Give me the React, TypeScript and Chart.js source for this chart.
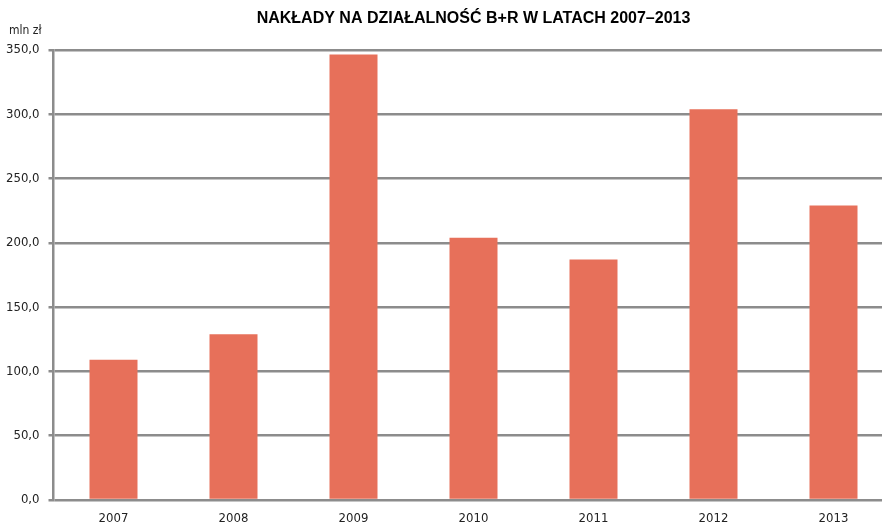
import React, { useEffect, useRef } from "react";
import { Chart, registerables } from "chart.js";

Chart.register(...registerables);

const TITLE = "NAKŁADY NA DZIAŁALNOŚĆ B+R W LATACH 2007–2013";
const UNIT = "mln zł";
const years = ["2007", "2008", "2009", "2010", "2011", "2012", "2013"];
const spending = [109, 129, 346.5, 204, 187, 304, 229];
const yMin = 0;
const yMax = 350;
const yStep = 50;

const FONT = "'Liberation Sans Narrow', 'Arial Narrow', 'DejaVu Sans Condensed', sans-serif";
const GRID = "#8c8c8c";

export default function App() {
  const ref = useRef<HTMLCanvasElement | null>(null);

  useEffect(() => {
    if (!ref.current) return;
    const textPlugin = {
      id: "texts",
      afterDraw(chart: any) {
        const { ctx, chartArea } = chart;
        ctx.save();
        ctx.fillStyle = "#000";
        ctx.font = "bold 16px 'Liberation Sans', Arial, sans-serif";
        ctx.textAlign = "center";
        ctx.textBaseline = "middle";
        ctx.fillText(TITLE, (chartArea.left + chartArea.right) / 2, 19);
        ctx.fillStyle = "#222";
        ctx.font = "12px " + FONT;
        ctx.textAlign = "left";
        ctx.fillText(UNIT, 9, 31);
        ctx.restore();
      },
    };
    const chart = new Chart(ref.current, {
      type: "bar",
      data: {
        labels: years,
        datasets: [
          {
            data: spending,
            backgroundColor: "#e7705a",
            borderWidth: 0,
            barPercentage: 0.4,
            categoryPercentage: 1,
          },
        ],
      },
      options: {
        responsive: false,
        animation: false,
        devicePixelRatio: 1,
        layout: { padding: { top: 50, right: 6.5, left: 0, bottom: 0 } },
        plugins: {
          legend: { display: false },
          title: { display: false },
          tooltip: { enabled: false },
        },
        scales: {
          x: {
            type: "category",
            offset: true,
            grid: { display: false, drawTicks: false },
            border: { display: false },
            ticks: { color: "#222", font: { family: FONT, size: 13 }, padding: 11 },
            afterFit(scale: any) {
              scale.height = 26;
            },
          },
          y: {
            min: yMin,
            max: yMax,
            ticks: {
              stepSize: yStep,
              color: "#222",
              font: { family: FONT, size: 13 },
              padding: 9,
              callback: (v: any) => Number(v).toFixed(1).replace(".", ","),
            },
            grid: { color: GRID, lineWidth: 2.5, tickLength: 5, drawTicks: true },
            border: { display: true, color: GRID, width: 2.5 },
            afterFit(scale: any) {
              scale.width = 53.5;
            },
          },
        },
      },
      plugins: [textPlugin],
    });
    return () => chart.destroy();
  }, []);

  return (
    <div style={{ position: "fixed", left: 0, top: 0, width: 882, height: 526, overflow: "hidden", background: "#fff" }}>
      <canvas ref={ref} width={900} height={526} style={{ width: 900, height: 526, display: "block" }} />
    </div>
  );
}
